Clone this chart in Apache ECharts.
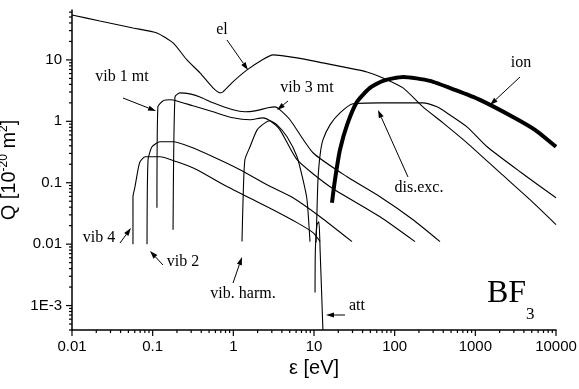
<!DOCTYPE html>
<html>
<head>
<meta charset="utf-8">
<script src="https://cdn.jsdelivr.net/npm/echarts@6/dist/echarts.min.js"></script>
<style>
html, body { margin: 0; padding: 0; background: #fff; }
#chart { width: 579px; height: 389px; }
</style>
</head>
<body>
<div id="chart"></div>
<script>
// BF3 electron cross sections, energy in eV, Q in 1e-20 m2
var elE = [0.01, 0.0222, 0.0571, 0.113, 0.179, 0.266, 0.386, 0.56, 0.683, 0.745, 0.99, 1.48, 2.27, 3.1, 6.16, 12.9, 30.4, 45.4, 71.7, 127, 224, 397, 788, 2020, 4760, 10000];
var elQ = [53.9, 43, 33.1, 27.5, 18.9, 10, 6.15, 3.5, 2.91, 3.02, 4.4, 6.88, 10, 12.1, 10.8, 8.94, 7.14, 6.38, 5.1, 3.5, 1.72, 0.945, 0.447, 0.146, 0.053, 0.0208];

var ionE = [16.7, 18.2, 21.0, 25.7, 34.1, 49.4, 71.7, 127, 274, 560, 1140, 2930, 5490, 10000];
var ionQ = [0.0473, 0.112, 0.344, 0.877, 2.07, 3.5, 4.56, 5.29, 4.56, 3.25, 2.24, 1.18, 0.727, 0.385];

var disE = [10.6, 10.9, 11.2, 11.9, 12.9, 15.8, 21.0, 30.4, 65.8, 224, 335, 445, 788, 1400, 3580, 10000];
var disQ = [0.0106, 0.0364, 0.112, 0.285, 0.5, 0.877, 1.37, 1.93, 2.0, 2.0, 1.72, 1.37, 0.814, 0.385, 0.151, 0.057];

var vib1E = [0.113, 0.116, 0.134, 0.164, 0.2, 0.316, 0.56, 0.99, 1.61, 2.33, 2.85, 3.79, 6.16, 15.8, 65.8, 179];
var vib1Q = [0.0392, 1.72, 2.15, 2.24, 2.15, 1.79, 1.43, 1.14, 1.06, 1.14, 1.02, 0.727, 0.237, 0.0861, 0.028, 0.011];

var vib3E = [0.179, 0.189, 0.218, 0.29, 0.386, 0.56, 0.99, 1.39, 1.86, 2.69, 3.29, 3.79, 5.04, 9.72, 25.7, 65.8, 169, 365];
var vib3Q = [0.0172, 2.5, 2.91, 2.8, 2.5, 2.0, 1.54, 1.43, 1.48, 1.66, 1.72, 1.54, 1.06, 0.308, 0.125, 0.0592, 0.025, 0.011];

var harmE = [1.28, 1.32, 1.39, 1.61, 1.97, 2.47, 2.85, 3.48, 4.63, 6.16, 7.3, 8.19, 8.92];
var harmQ = [0.011, 0.0529, 0.237, 0.385, 0.727, 0.945, 1.02, 0.877, 0.56, 0.265, 0.112, 0.0529, 0.011];

var attE = [10.3, 10.4, 10.9, 11.5, 11.9, 12.9];
var attQ = [0.00163, 0.00814, 0.0208, 0.0232, 0.00814, 0.0004];

var vib4E = [0.057, 0.057, 0.0604, 0.0658, 0.0697, 0.0804, 0.123, 0.2, 0.354, 0.683, 1.48, 3.1, 6.16, 9.72, 11.9];
var vib4Q = [0.01, 0.0592, 0.0861, 0.163, 0.22, 0.265, 0.265, 0.219, 0.163, 0.1, 0.0592, 0.0364, 0.0224, 0.0154, 0.011];

var vib2E = [0.0851, 0.0876, 0.0981, 0.123, 0.179, 0.29, 0.56, 1.21, 2.61, 5.49, 11.9, 29.6];
var vib2Q = [0.01, 0.237, 0.385, 0.464, 0.464, 0.385, 0.265, 0.163, 0.0928, 0.057, 0.028, 0.011];

// axis ranges and ticks
var xMin = 0.01, xMax = 10000;
var yMin = 0.0004, yMax = 65;
var xMajor = [0.01, 0.1, 1, 10, 100, 1000, 10000];
var yMajor = [0.001, 0.01, 0.1, 1, 10];
var xDecades = [0.01, 0.1, 1, 10, 100, 1000];
var yDecades = [0.0001, 0.001, 0.01, 0.1, 1, 10];
var mantissas = [2, 3, 4, 5, 6, 7, 8, 9];

function zip(a, b) {
  return a.map(function (v, i) { return [v, b[i]]; });
}

function minorOf(decades, lo, hi) {
  var out = [];
  decades.forEach(function (d) {
    mantissas.forEach(function (m) {
      var v = +(d * m).toPrecision(3);
      if (v >= lo && v <= hi) out.push(v);
    });
  });
  return out;
}

function curve(name, e, q, width) {
  return {
    name: name,
    type: 'line',
    data: zip(e, q),
    symbol: 'none',
    smooth: 0.2,
    lineStyle: { color: '#000', width: width || 1.1 },
    z: 3
  };
}

function arrow(x1, y1, x2, y2) {
  var a = Math.atan2(y2 - y1, x2 - x1), L = 8, w = 2.6;
  var bx = x2 - L * Math.cos(a), by = y2 - L * Math.sin(a);
  return [
    { type: 'line', shape: { x1: x1, y1: y1, x2: bx, y2: by }, style: { stroke: '#000', lineWidth: 1 } },
    { type: 'polygon', shape: { points: [[x2, y2], [bx + w * Math.sin(a), by - w * Math.cos(a)], [bx - w * Math.sin(a), by + w * Math.cos(a)]] }, style: { fill: '#000' } }
  ];
}

function label(text, x, y, size) {
  return {
    type: 'text', x: x, y: y,
    style: { text: text, fill: '#000', font: (size || 16) + 'px "Liberation Serif"', align: 'center', verticalAlign: 'middle' }
  };
}

var chart = echarts.init(document.getElementById('chart'));
chart.setOption({
  animation: false,
  grid: { left: 72, right: 23, top: 10, bottom: 59, outerBoundsMode: 'none' },
  xAxis: {
    type: 'log', logBase: 10, min: xMin, max: xMax,
    name: 'ε [eV]', nameLocation: 'middle', nameGap: 22,
    nameTextStyle: { fontSize: 20, fontFamily: 'Liberation Sans', color: '#000' },
    axisLine: { lineStyle: { color: '#000', width: 1.5 } },
    axisTick: { show: false },
    splitLine: { show: false },
    axisLabel: {
      margin: 9, fontSize: 15, fontFamily: 'Liberation Sans', color: '#000',
      formatter: function (v) { return String(+v.toPrecision(3)); }
    }
  },
  yAxis: {
    type: 'log', logBase: 10, min: yMin, max: yMax,
    name: 'Q [10{s|-20} m{s|2}]', nameLocation: 'middle', nameGap: 38,
    nameTextStyle: {
      fontSize: 20, fontFamily: 'Liberation Sans', color: '#000',
      rich: { s: { fontSize: 12, fontFamily: 'Liberation Sans', color: '#000', verticalAlign: 'top', lineHeight: 24 } }
    },
    axisLine: { lineStyle: { color: '#000', width: 1.5 } },
    axisTick: { show: false },
    splitLine: { show: false },
    axisLabel: {
      margin: 10, fontSize: 15, fontFamily: 'Liberation Sans', color: '#000',
      showMinLabel: false, showMaxLabel: false,
      formatter: function (v) { return v < 0.005 ? '1E-3' : String(+v.toPrecision(3)); }
    }
  },
  series: [
    curve('el', elE, elQ),
    curve('vib 1 mt', vib1E, vib1Q),
    curve('vib 3 mt', vib3E, vib3Q),
    curve('vib 4', vib4E, vib4Q),
    curve('vib 2', vib2E, vib2Q),
    curve('vib. harm.', harmE, harmQ),
    curve('att', attE, attQ),
    curve('dis.exc.', disE, disQ),
    curve('ion', ionE, ionQ, 4)
  ]
});

// log ticks (major + 2..9 minor), placed through the chart's own scales
var ticks = [];
function tick(v, isX, len) {
  var p = chart.convertToPixel({ gridIndex: 0 }, isX ? [v, yMin] : [xMin, v]);
  ticks.push({
    type: 'line',
    shape: { x1: p[0], y1: p[1], x2: isX ? p[0] : p[0] - len, y2: isX ? p[1] + len : p[1] },
    style: { stroke: '#000', lineWidth: 1.2 }
  });
}
xMajor.forEach(function (v) { tick(v, true, 6); });
minorOf(xDecades, xMin, xMax).forEach(function (v) { tick(v, true, 3); });
yMajor.forEach(function (v) { tick(v, false, 6); });
minorOf(yDecades, yMin, yMax).forEach(function (v) { tick(v, false, 3); });

var graphics = ticks.concat([
  label('el', 222, 30),
  label('vib 1 mt', 122, 77),
  label('vib 3 mt', 307, 88),
  label('ion', 521, 63),
  label('dis.exc.', 419, 188),
  label('vib 4', 99, 238),
  label('vib 2', 183, 262),
  label('vib. harm.', 243, 294),
  label('att', 357, 306),
  { type: 'text', x: 487, y: 294, style: { text: 'BF', fill: '#000', font: '32px "Liberation Serif"', align: 'left', verticalAlign: 'middle' } },
  { type: 'text', x: 526, y: 315, style: { text: '3', fill: '#000', font: '17px "Liberation Serif"', align: 'left', verticalAlign: 'middle' } }
]).concat(
  arrow(227, 40, 248, 70),
  arrow(123, 98, 156, 111),
  arrow(288, 101, 277, 110),
  arrow(520, 77, 490, 105),
  arrow(408, 177, 378, 110),
  arrow(120, 243, 131, 228),
  arrow(163, 265, 150, 251),
  arrow(233, 283, 242, 257),
  arrow(345, 315, 326, 315)
);

chart.setOption({ graphic: { elements: graphics } });
</script>
</body>
</html>
